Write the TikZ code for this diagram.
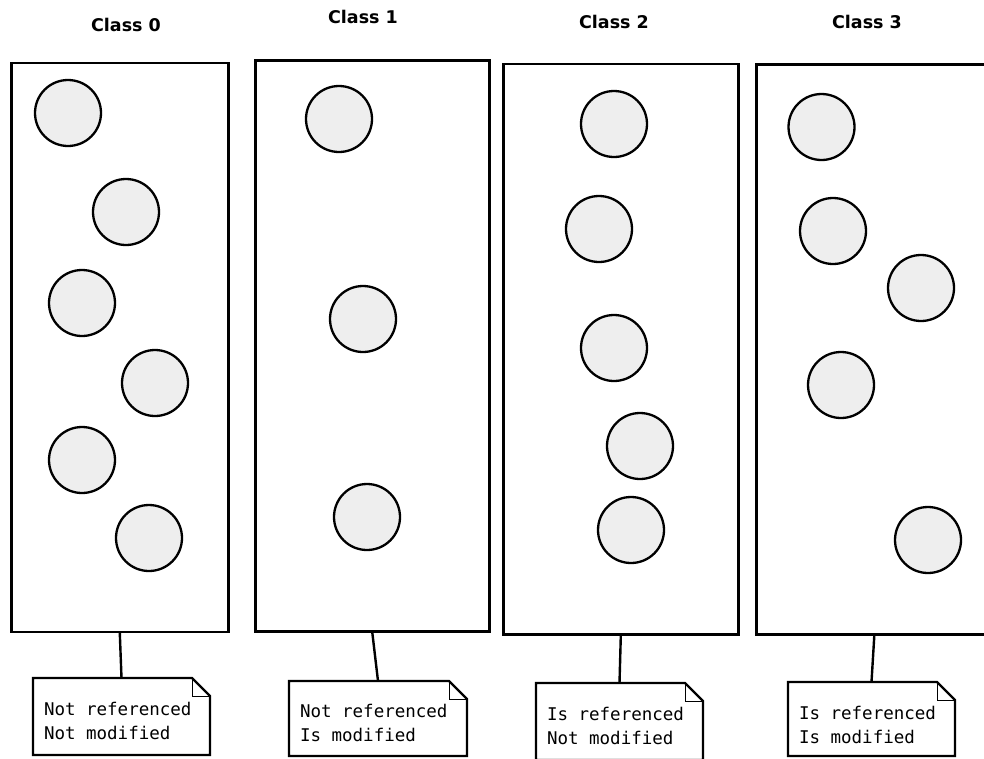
\documentclass[tikz,border=0pt]{standalone}
\usepackage{fontspec}
\setmainfont{DejaVu Sans}
\newfontfamily\notefont{DejaVu Sans Mono}
\usetikzlibrary{calc}

\begin{document}
\begin{tikzpicture}[x=1pt, y=-1pt,
    classbox/.style={draw=borderColour, line width=2.6pt, anchor=north west},
    ball/.style={draw=borderColour, line width=2.3pt, fill=ballColour},
    notebox/.style={anchor=north west, inner xsep=11pt, inner ysep=0pt, outer sep=0pt,
        align=left, font=\notefont\fontsize{17.5}{24}\selectfont,
        execute at begin node={\spaceskip=0.602em\relax\xspaceskip=0.602em\relax}},
    noteline/.style={draw=borderColour, line width=2.4pt, line join=miter},
    title/.style={anchor=base, font=\bfseries\fontsize{17.5}{21}\selectfont},
    link/.style={draw=borderColour, line width=2.4pt}]
    % Define page size and note fold
    \def\pageW{984}
    \def\pageH{758}
    \def\fold{18}

    \definecolor{borderColour}{HTML}{000000}
    \definecolor{ballColour}{HTML}{EEEEEE}

    % Fix the page
    \useasboundingbox[fill=white] (0,0) rectangle (\pageW,\pageH);
    \clip (0,0) rectangle (\pageW,\pageH);

    % Draw class titles
    \node[title] (title0) at (126,31) {Class 0};
    \node[title] (title1) at (363,23.5) {Class 1};
    \node[title] (title2) at (614,28) {Class 2};
    \node[title] (title3) at (867,28) {Class 3};

    % Draw class boxes
    \node[classbox, minimum width=217pt, minimum height=569pt] (box0) at (10,61.5) {};
    \node[classbox, minimum width=234pt, minimum height=571pt] (box1) at (254,59) {};
    \node[classbox, minimum width=235pt, minimum height=570.5pt] (box2) at (502,62.5) {};
    \node[classbox, minimum width=236pt, minimum height=570pt] (box3) at (755,63) {};

    % Draw the pages in each class
    \foreach \x/\y in {68/113, 126/212, 82/303, 155/383, 82/460, 149/538}
        \draw[ball] (\x,\y) circle (33pt);
    \foreach \x/\y in {339/119, 363/319, 367/517}
        \draw[ball] (\x,\y) circle (33pt);
    \foreach \x/\y in {614/124, 599/229, 614/348, 640/446, 631/530}
        \draw[ball] (\x,\y) circle (33pt);
    \foreach \x/\y in {821.5/127, 833/231, 921/288, 841/385, 928/540}
        \draw[ball] (\x,\y) circle (33pt);

    % Draw notes
    \node[notebox, text width=155pt, text height=37pt, text depth=40pt] (note0) at (33,678)
        {Not referenced\\Not modified};
    \node[notebox, text width=156pt, text height=36pt, text depth=39pt] (note1) at (289,681)
        {Not referenced\\Is modified};
    \node[notebox, text width=145pt, text height=37pt, text depth=40pt] (note2) at (536,683)
        {Is referenced\\Not modified};
    \node[notebox, text width=145pt, text height=37pt, text depth=37pt] (note3) at (788,682)
        {Is referenced\\Is modified};

    \foreach \n in {note0,note1,note2,note3} {
        \draw[noteline] (\n.north west) -- ([xshift=-\fold pt]\n.north east)
            -- ([yshift=-\fold pt]\n.north east) -- (\n.south east) -- (\n.south west) -- cycle;
        \draw[borderColour, thin] ([xshift=-\fold pt]\n.north east) |- ([yshift=-\fold pt]\n.north east);
    }

    % Link boxes to notes
    \foreach \i in {0,...,3}
        \draw[link] (box\i.south) -- (note\i.north);

\end{tikzpicture}
\end{document}
